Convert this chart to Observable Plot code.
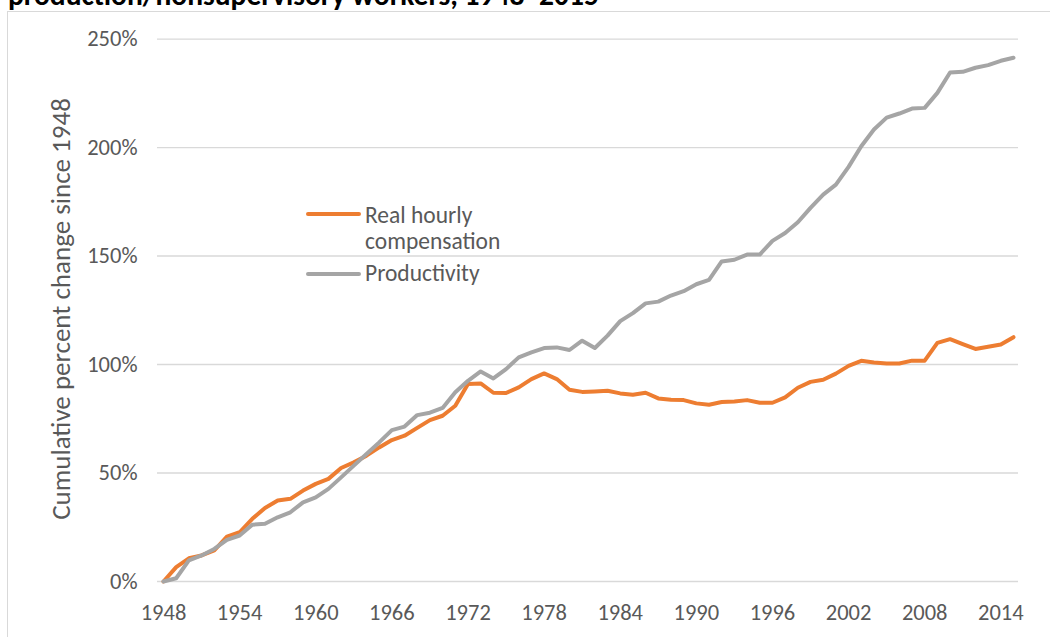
<!DOCTYPE html>
<html><head><meta charset="utf-8">
<script src="https://cdn.jsdelivr.net/npm/d3@7"></script>
<script src="https://cdn.jsdelivr.net/npm/@observablehq/plot@0.6"></script>
<style>
html,body{margin:0;padding:0;background:#fff;overflow:hidden;width:1050px;height:637px;}
#wrap{position:relative;width:1050px;height:637px;overflow:hidden;}
#frame{position:absolute;left:7px;top:11px;width:1200px;height:800px;border:1px solid #d9d9d9;box-sizing:border-box;}
#chart{position:absolute;left:0;top:0;}
#overlay{position:absolute;left:0;top:0;pointer-events:none;}
</style>
</head><body>
<div id="wrap"><div id="frame"></div><div id="chart"></div>
<svg id="overlay" width="1050" height="637"></svg></div>
<script>
const FONT = "Calibri, Carlito, 'Open Sans', sans-serif";
const years = d3.range(1948, 2016);
const compensation = [0,6.6,10.7,12.0,14.3,20.7,22.7,28.9,33.9,37.3,38.1,41.9,45.0,47.3,52.3,54.9,58.0,61.8,65.2,67.2,70.8,74.4,76.4,81.0,91.0,91.3,87.0,86.9,89.5,93.3,95.9,93.3,88.4,87.4,87.6,87.9,86.7,86.1,87.0,84.4,83.8,83.6,82.1,81.5,82.7,83.0,83.6,82.4,82.4,84.9,89.3,92.0,93.0,95.8,99.4,101.7,100.9,100.5,100.5,101.8,101.8,110.0,111.7,109.4,107.2,108.2,109.2,112.6];
const productivity = [0,1.5,9.7,12.0,15.0,19.2,21.2,26.2,26.6,29.6,31.9,36.5,38.8,42.7,48.0,53.4,58.8,64.1,69.8,71.4,76.7,77.8,80.0,87.2,92.5,96.8,93.6,97.9,103.3,105.6,107.6,107.9,106.7,111.0,107.6,113.3,120.0,123.7,128.2,129.0,131.8,133.8,137.0,139.0,147.5,148.3,150.7,150.7,157.0,160.6,165.6,172.2,178.3,182.9,191.1,200.6,208.3,213.8,215.7,218.0,218.3,225.2,234.6,234.9,236.8,238.0,240.0,241.4];
const seriesNames = ["Real hourly compensation", "Productivity"];
const seriesColors = ["#ED7D31", "#A5A5A5"];
const yTicks = [0, 50, 100, 150, 200, 250];
const xTicks = [1948, 1954, 1960, 1966, 1972, 1978, 1984, 1990, 1996, 2002, 2008, 2014];
const titleText = "production/nonsupervisory workers, 1948–2015";
const yLabel = "Cumulative percent change since 1948";

const data = [
  ...years.map((y, i) => ({year: y, value: compensation[i], series: seriesNames[0]})),
  ...years.map((y, i) => ({year: y, value: productivity[i], series: seriesNames[1]}))
];

const plot = Plot.plot({
  width: 1050, height: 637,
  marginLeft: 157, marginRight: 32, marginTop: 38.6, marginBottom: 56,
  style: {fontFamily: FONT, fontSize: "22.5px", color: "#595959", background: "transparent"},
  x: {domain: [1948, 2015], insetLeft: 6, insetRight: 5},
  y: {domain: [0, 250]},
  color: {domain: seriesNames, range: seriesColors},
  marks: [
    Plot.ruleY(yTicks, {stroke: "#d9d9d9", strokeWidth: 1.4}),
    Plot.axisY({ticks: yTicks, tickSize: 0, tickPadding: 20, tickFormat: d => d + "%", label: null}),
    Plot.axisX({ticks: xTicks, tickSize: 0, tickPadding: 23, tickFormat: d => String(d), label: null}),
    Plot.lineY(data, {x: "year", y: "value", stroke: "series", z: "series", strokeWidth: 4, strokeLinejoin: "round", strokeLinecap: "round"})
  ]
});
document.getElementById("chart").appendChild(plot);

const ov = d3.select("#overlay");
ov.append("text").attr("x", 8).attr("y", 5).attr("font-family", FONT).attr("font-weight", "bold")
  .attr("font-size", 29.5).attr("fill", "#000").text(titleText);
ov.append("text").attr("transform", "translate(70,309) rotate(-90)").attr("text-anchor", "middle")
  .attr("font-family", FONT).attr("font-size", 27).attr("fill", "#595959").text(yLabel);
const legendItems = [
  {lineY: 214, lines: ["Real hourly", "compensation"], baselines: [223, 249]},
  {lineY: 274, lines: ["Productivity"], baselines: [281]}
];
legendItems.forEach((it, i) => {
  ov.append("line").attr("x1", 308).attr("x2", 359).attr("y1", it.lineY).attr("y2", it.lineY)
    .attr("stroke", seriesColors[i]).attr("stroke-width", 4).attr("stroke-linecap", "round");
  it.lines.forEach((t, j) => ov.append("text").attr("x", 365).attr("y", it.baselines[j])
    .attr("font-family", FONT).attr("font-size", 23.5).attr("fill", "#595959").text(t));
});
</script>
</body></html>
